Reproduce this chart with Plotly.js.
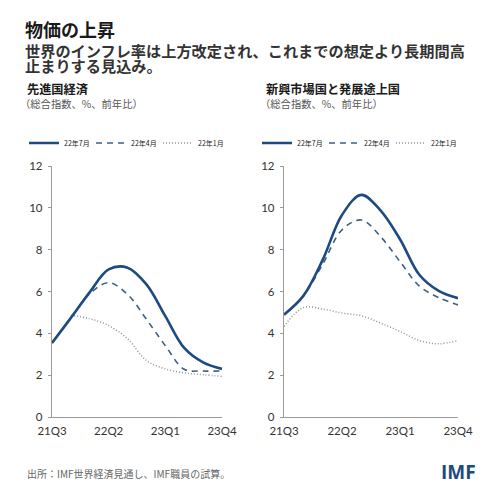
<html>
<head>
<meta charset="utf-8">
<script src="https://cdn.plot.ly/plotly-3.0.1.min.js"></script>
<style>
  body { margin: 0; background: #fff; }
  #chart { width: 500px; height: 500px; }
</style>
</head>
<body>
<div id="chart"></div>
<script>
  // quarters on the x axis, and the labelled ones
  var quarters = ['21Q3', '21Q4', '22Q1', '22Q2', '22Q3', '22Q4', '23Q1', '23Q2', '23Q3', '23Q4'];
  var tickQuarters = ['21Q3', '22Q2', '23Q1', '23Q4'];
  var seriesNames = ['22年7月', '22年4月', '22年1月'];

  // advanced economies (headline, % y/y)
  var advJul = [3.54, 4.74, 5.97, 7.06, 7.14, 6.34, 4.82, 3.30, 2.61, 2.30];
  var advApr = [3.54, 4.74, 5.90, 6.42, 5.86, 4.67, 3.41, 2.28, 2.20, 2.20];
  var advJan = [null, 4.86, 4.70, 4.37, 3.74, 2.70, 2.30, 2.11, 2.02, 1.94];

  // emerging market and developing economies
  var emJul = [4.89, 5.79, 7.51, 9.66, 10.62, 9.87, 8.50, 6.80, 6.03, 5.68];
  var emApr = [4.89, 5.79, 7.30, 8.95, 9.42, 8.62, 7.43, 6.26, 5.71, 5.36];
  var emJan = [4.33, 5.23, 5.16, 4.97, 4.84, 4.49, 4.09, 3.66, 3.50, 3.66];

  var styles = [
    {color: '#1d4a80', width: 2.6, dash: 'solid'},
    {color: '#3f5f82', width: 1.6, dash: '6px,5px'},
    {color: '#8a95a8', width: 1.5, dash: '1px,2px'}
  ];

  function makeTrace(y, i, xa, ya, lg) {
    return {
      type: 'scatter', mode: 'lines',
      x: quarters, y: y, name: seriesNames[i],
      xaxis: xa, yaxis: ya, legend: lg,
      line: {color: styles[i].color, width: styles[i].width, dash: styles[i].dash, shape: 'spline', smoothing: 1},
      hoverinfo: 'skip'
    };
  }

  // draw order: dotted, dashed, solid on top; legend order kept by legendrank
  var data = [];
  [[advJan, 2], [advApr, 1], [advJul, 0]].forEach(function (p) {
    var t = makeTrace(p[0], p[1], 'x', 'y', 'legend');
    t.legendrank = p[1];
    data.push(t);
  });
  [[emJan, 2], [emApr, 1], [emJul, 0]].forEach(function (p) {
    var t = makeTrace(p[0], p[1], 'x2', 'y2', 'legend2');
    t.legendrank = p[1];
    data.push(t);
  });

  var tickFont = {family: 'Lato, "Noto Sans", sans-serif', size: 11.5, color: '#333'};
  function xAxis(domain, anchor) {
    return {
      domain: domain, anchor: anchor, type: 'category',
      range: [0, 9], tickmode: 'array', tickvals: tickQuarters, ticktext: tickQuarters,
      showgrid: false, zeroline: false, showline: true, linecolor: '#9a9a9a', linewidth: 1.2,
      ticks: '', tickfont: tickFont, ticklabelstandoff: 3, fixedrange: true
    };
  }
  function yAxis(anchor) {
    return {
      domain: [0.166, 0.668], anchor: anchor, range: [0, 12], dtick: 2,
      showgrid: false, zeroline: false, showline: true, linecolor: '#9a9a9a', linewidth: 1.2,
      ticks: 'outside', ticklen: 3, tickcolor: '#9a9a9a', tickfont: tickFont,
      ticklabelstandoff: 3, fixedrange: true
    };
  }

  var jp = '"Noto Sans CJK JP", sans-serif';
  var legendBase = {
    orientation: 'h', yanchor: 'middle', xanchor: 'left', y: 0.714,
    font: {family: jp, size: 7, color: '#222'}, bgcolor: 'rgba(0,0,0,0)',
    itemwidth: 30, entrywidth: 22, tracegroupgap: 0, traceorder: 'normal'
  };
  var legend1 = Object.assign({}, legendBase, {x: 0.048});
  var legend2 = Object.assign({}, legendBase, {x: 0.514});

  function note(text, x, y, size, color, bold) {
    return {
      xref: 'paper', yref: 'paper', x: x, y: y, xanchor: 'left', yanchor: 'middle',
      text: bold ? '<b>' + text + '</b>' : text, showarrow: false, align: 'left',
      font: {family: jp, size: size, color: color}
    };
  }

  var layout = {
    width: 500, height: 500,
    margin: {l: 0, r: 0, t: 0, b: 0},
    paper_bgcolor: '#fff', plot_bgcolor: '#fff',
    showlegend: true,
    legend: legend1, legend2: legend2,
    xaxis: xAxis([0.104, 0.444], 'y'),
    yaxis: yAxis('x'),
    xaxis2: xAxis([0.568, 0.916], 'y2'),
    yaxis2: yAxis('x2'),
    annotations: [
      note('物価の上昇', 0.046, 0.943, 18, '#1a1a1a', true),
      note('世界のインフレ率は上方改定され、これまでの想定より長期間高', 0.046, 0.899, 15.2, '#333', true),
      note('止まりする見込み。', 0.046, 0.870, 15.2, '#333', true),
      note('先進国経済', 0.05, 0.822, 12.2, '#1a1a1a', true),
      note('（総合指数、%、前年比）', 0.036, 0.792, 10.3, '#555', false),
      note('新興市場国と発展途上国', 0.528, 0.822, 12.2, '#1a1a1a', true),
      note('（総合指数、%、前年比）', 0.516, 0.792, 10.3, '#555', false),
      note('出所：IMF世界経済見通し、IMF職員の試算。', 0.05, 0.054, 10, '#666', false),
      {xref: 'paper', yref: 'paper', x: 0.956, y: 0.056, xanchor: 'right', yanchor: 'middle',
       text: '<b>IMF</b>', showarrow: false,
       font: {family: '"Open Sans", Arial, sans-serif', size: 19, color: '#1d4a80'}}
    ]
  };

  Plotly.newPlot('chart', data, layout, {displayModeBar: false, staticPlot: true});
</script>
</body>
</html>
